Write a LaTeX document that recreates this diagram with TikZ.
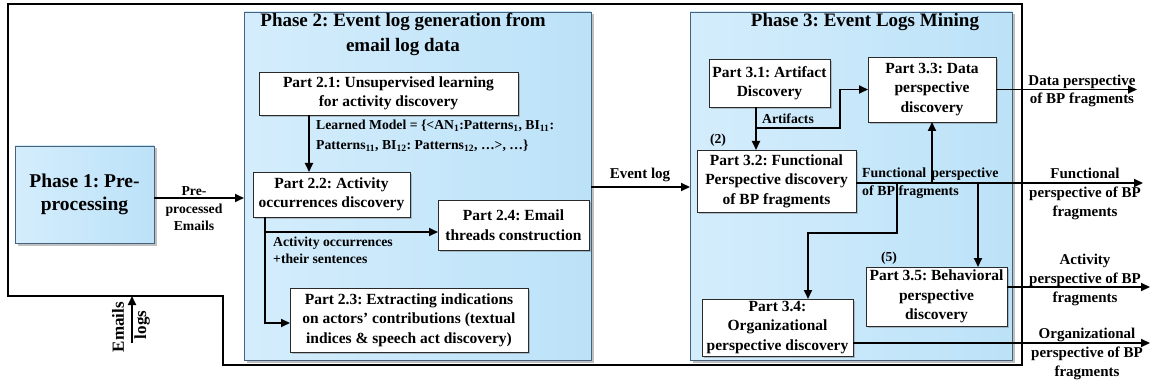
\documentclass[tikz,border=0pt]{standalone}
\usepackage{fontspec}
\setmainfont{Liberation Serif}
\usetikzlibrary{arrows.meta,shadows}
\frenchspacing

\definecolor{phasefillA}{HTML}{D4EDFC}
\definecolor{phasefillB}{HTML}{BCE2F8}
\definecolor{phaseline}{HTML}{46627C}
\definecolor{partline}{HTML}{2A2A2A}

\newcommand\boxfont{\fontsize{15.5}{19.5}\selectfont\bfseries}
\newcommand\lblfont{\fontsize{13.7}{17.5}\selectfont\bfseries}
\newcommand\ttlfont{\fontsize{19}{25}\selectfont\bfseries}
\newcommand\outfont{\fontsize{15}{19}\selectfont\bfseries}

\begin{document}
\begin{tikzpicture}[x=1pt,y=-1pt,
  phasebox/.style={draw=phaseline,line width=0.9pt,left color=phasefillA,right color=phasefillB,
    drop shadow={shadow xshift=2.5pt,shadow yshift=-2.5pt,opacity=0.45,fill=black!55},
    inner sep=0pt,outer sep=0pt},
  partbox/.style={draw=partline,line width=0.9pt,fill=white,
    drop shadow={shadow xshift=2pt,shadow yshift=-2pt,opacity=0.35,fill=black!60},
    inner sep=0pt,outer sep=0pt,align=center,font=\boxfont},
  link/.style={line width=1.8pt},
  arr/.style={link,-{Triangle[length=9pt,width=8pt]}},
  lbl/.style={font=\lblfont,inner sep=0pt,align=left},
  outlbl/.style={font=\outfont,inner sep=0pt,align=center},
  frameline/.style={line width=2pt,line join=miter},
]
\useasboundingbox (0,0) rectangle (1152,385);

% outer frame around the three phases
\draw[frameline] (8,4) -- (1022,4) -- (1022,365) -- (223,365) -- (223,296) -- (8,296) -- cycle;
\coordinate (frIn) at (132,296);

% phase containers
\node[phasebox,minimum width=139pt,minimum height=97pt,align=center,
      font=\fontsize{19.5}{22.5}\selectfont\bfseries] (ph1) at (84.5,194.5) {Phase 1: Pre-\\processing};
\node[phasebox,minimum width=347pt,minimum height=348pt] (ph2) at (417.5,186) {};
\node[phasebox,minimum width=322pt,minimum height=348pt] (ph3) at (851,186) {};
\node[font=\ttlfont,align=center,inner sep=0pt] (ph2t) at (403,34.5) {Phase 2: Event log generation from\\email log data};
\node[font=\ttlfont,inner sep=0pt] (ph3t) at (865,22) {Phase 3: Event Logs Mining};

% phase 2 parts
\node[partbox,minimum width=259pt,minimum height=43pt] (p21) at (388.5,93.5) {Part 2.1: Unsupervised learning\\for activity discovery};
\node[partbox,minimum width=157pt,minimum height=45pt] (p22) at (331.5,194.5) {Part 2.2: Activity\\occurrences discovery};
\node[partbox,minimum width=238pt,minimum height=64pt] (p23) at (409,320) {Part 2.3: Extracting indications\\on actors’ contributions (textual\\indices \& speech act discovery)};
\node[partbox,minimum width=151pt,minimum height=50pt] (p24) at (513.5,225) {Part 2.4: Email\\threads construction};

% phase 3 parts
\node[partbox,minimum width=121pt,minimum height=48pt] (p31) at (769.5,83) {Part 3.1: Artifact\\Discovery};
\node[partbox,minimum width=159pt,minimum height=62pt] (p32) at (776.5,181) {Part 3.2: Functional\\Perspective discovery\\of BP fragments};
\node[partbox,minimum width=128pt,minimum height=65pt] (p33) at (932,89.5) {Part 3.3: Data\\perspective\\discovery};
\node[partbox,minimum width=151pt,minimum height=57pt] (p34) at (777.5,327.5) {Part 3.4:\\Organizational\\perspective discovery};
\node[partbox,minimum width=141pt,minimum height=59pt] (p35) at (936.5,296.5) {Part 3.5: Behavioral\\perspective\\discovery};

% helper coordinates for connector routing
\coordinate (yPre) at (0,198);
\coordinate (x309) at (309,0);
\coordinate (x265) at (265,0);
\coordinate (y232) at (0,232);
\coordinate (y323) at (0,323);
\coordinate (yEv) at (0,187);
\coordinate (x756) at (756,0);
\coordinate (jArt) at (756,128);
\coordinate (x840) at (840,0);
\coordinate (yF) at (0,183);
\coordinate (x897) at (897,0);
\coordinate (y233) at (0,233);
\coordinate (x808) at (808,0);
\coordinate (x978) at (978,0);
\coordinate (yAct) at (0,287);
\coordinate (yOrg) at (0,343);
\coordinate (elS) at (132,343);
\coordinate (outD) at (1137,89.5);
\coordinate (outF) at (1143,183);
\coordinate (outA) at (1150,287);
\coordinate (outO) at (1150,343);

% input side
\draw[arr] (elS) -- (frIn);
\node[font=\fontsize{17}{20}\selectfont\bfseries,rotate=90,inner sep=0pt] (lEm) at (118,327) {Emails};
\node[font=\fontsize{17}{20}\selectfont\bfseries,rotate=90,inner sep=0pt] (lLo) at (142,325) {logs};
\draw[arr] (ph1.east |- yPre) -- (ph2.west |- yPre);
\node[lbl,align=center] (lPre) at (194,209) {Pre-\\processed\\Emails};

% phase 2 flow
\draw[arr] (p21.south -| x309) -- (p22.north -| x309);
\node[lbl,anchor=west,font=\fontsize{13.7}{20}\selectfont\bfseries] (lModel) at (316,136)
  {Learned Model = \{<AN\textsubscript{1}:Patterns\textsubscript{1}, BI\textsubscript{11}:\\Patterns\textsubscript{11}, BI\textsubscript{12}: Patterns\textsubscript{12}, …>, …\}};
\draw[arr] (p22.south -| x265) |- (p23.west |- y323);
\draw[arr] (x265 |- y232) -- (p24.west |- y232);
\node[lbl,anchor=west] (lOcc) at (273,250.5) {Activity occurrences\\+their sentences};

% phase 2 to phase 3
\draw[arr] (ph2.east |- yEv) -- (ph3.west |- yEv);
\node[outlbl] (lEv) at (640,175) {Event log};

% phase 3 flow
\draw[arr] (p31.south -| x756) -- (p32.north -| x756);
\draw[arr] (jArt) -| (x840 |- p33.west) -- (p33.west);
\node[lbl] (lArt) at (788,119) {Artifacts};
\node[lbl] (l2) at (718,140) {(2)};
\node[lbl] (l5) at (889,258) {(5)};

\draw[arr] (p32.east |- yF) -- (outF);
\draw[arr] (p33.south |- yF) -- (p33.south);
\draw[arr] (x978 |- yF) -- (p35.north -| x978);
\draw[arr] (x897 |- yF) -- (x897 |- y233) -| (p34.north -| x808);
\node[lbl,anchor=west,font=\fontsize{13.9}{18}\selectfont\bfseries] (lFun) at (862,183.5)
  {Functional\hspace{5pt}perspective\\of BP fragments};

% outputs
\draw[arr] (p33.east) -- (outD);
\draw[arr] (p35.east |- yAct) -- (outA);
\draw[arr] (p34.east |- yOrg) -- (outO);
\node[outlbl,font=\fontsize{15}{18.5}\selectfont\bfseries] (oD) at (1082,91) {Data perspective\\of BP fragments};
\node[outlbl] (oF) at (1085,194) {Functional\\perspective of BP\\fragments};
\node[outlbl] (oA) at (1085,280) {Activity\\perspective of BP\\fragments};
\node[outlbl] (oO) at (1087,353.5) {Organizational\\perspective of BP\\fragments};
\end{tikzpicture}
\end{document}
